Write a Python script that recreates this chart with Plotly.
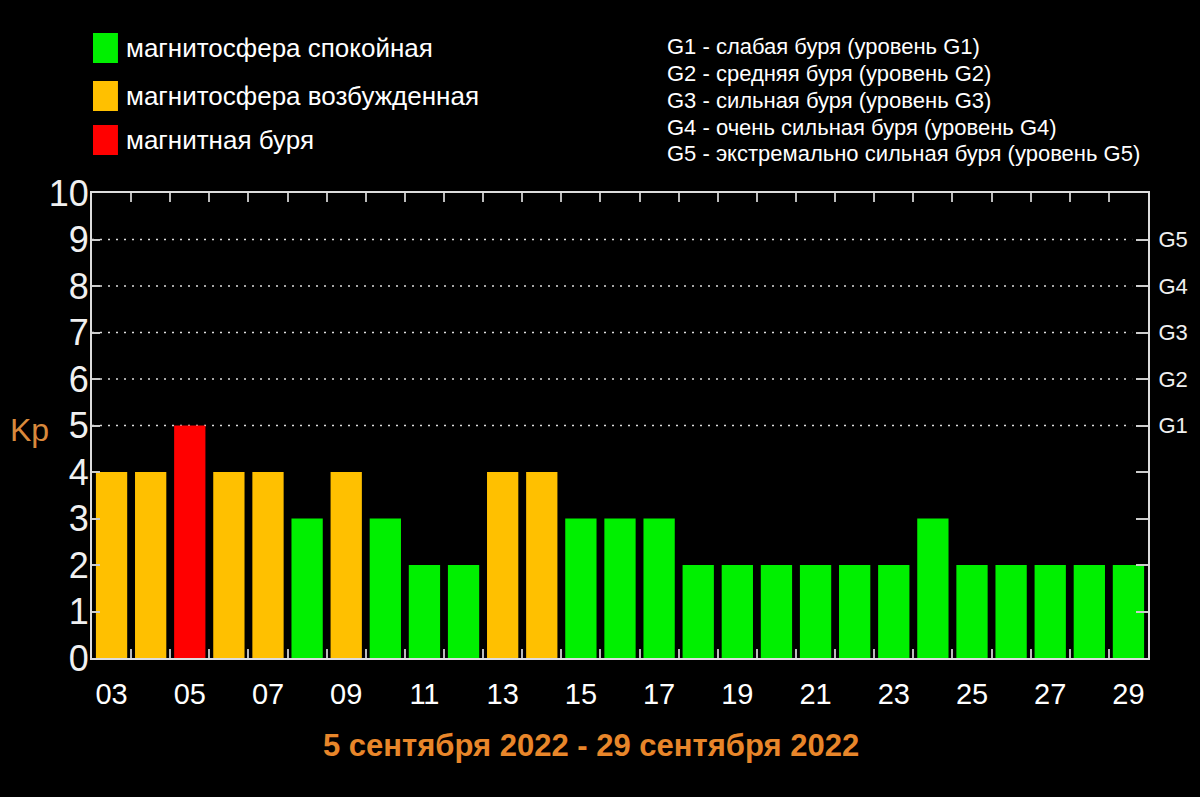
import plotly.graph_objects as go

days = ["03","04","05","06","07","08","09","10","11","12","13","14","15","16","17",
        "18","19","20","21","22","23","24","25","26","27","28","29"]
kp = [4,4,5,4,4,3,4,3,2,2,4,4,3,3,3,2,2,2,2,2,2,3,2,2,2,2,2]
label_days = ["03","05","07","09","11","13","15","17","19","21","23","25","27","29"]
g_levels = ["G1","G2","G3","G4","G5"]
g_values = [5,6,7,8,9]
legend_labels = ["магнитосфера спокойная", "магнитосфера возбужденная", "магнитная буря"]
legend_colors = ["#00F000", "#FFC000", "#FF0000"]
g_notes = ["G1 - слабая буря (уровень G1)",
           "G2 - средняя буря (уровень G2)",
           "G3 - сильная буря (уровень G3)",
           "G4 - очень сильная буря (уровень G4)",
           "G5 - экстремально сильная буря (уровень G5)"]
title_text = "5 сентября 2022 - 29 сентября 2022"

FONT = "Arial Narrow, Liberation Sans Narrow, Liberation Sans, sans-serif"

def color_for(v):
    if v >= 5:
        return legend_colors[2]
    if v >= 4:
        return legend_colors[1]
    return legend_colors[0]

idx = list(range(len(days)))
fig = go.Figure()
fig.add_trace(go.Bar(x=idx, y=kp, marker=dict(color=[color_for(v) for v in kp], line=dict(width=0)),
                     width=0.8, showlegend=False, hoverinfo="x+y"))
# invisible helper trace so the overlay axes (day labels / G levels) are drawn
fig.add_trace(go.Scatter(x=idx, y=kp, xaxis="x2", yaxis="y2", mode="markers",
                         marker=dict(opacity=0), showlegend=False, hoverinfo="skip"))

W, H = 1200, 797
L, R, T, B = 92, 50, 193, 139
fig.update_layout(
    width=W, height=H,
    paper_bgcolor="#000000", plot_bgcolor="#000000",
    margin=dict(l=L, r=R, t=T, b=B),
    showlegend=False,
    bargap=0.2,
    font=dict(family=FONT, color="#FFFFFF"),
    xaxis=dict(range=[-0.5, len(days) - 0.5], tickmode="array",
               tickvals=[i + 0.5 for i in idx[:-1]], ticktext=["" for _ in idx[:-1]],
               ticks="inside", ticklen=9, tickcolor="#BBBBBB", tickwidth=1.5,
               showline=True, linecolor="#DDDDDD", linewidth=2, mirror="ticks",
               showgrid=False, zeroline=False, fixedrange=True),
    xaxis2=dict(overlaying="x", side="bottom", range=[-0.5, len(days) - 0.5],
                tickmode="array", tickvals=[days.index(d) for d in label_days], ticktext=label_days,
                ticks="", showline=False, showgrid=False, zeroline=False,
                tickfont=dict(size=29, color="#FFFFFF", family=FONT), ticklabelstandoff=16),
    yaxis=dict(range=[0, 10], tickmode="array", tickvals=list(range(11)),
               ticktext=[str(v) for v in range(11)],
               ticks="inside", ticklen=8, tickcolor="#CCCCCC", tickwidth=1.5,
               showline=True, linecolor="#DDDDDD", linewidth=2,
               showgrid=False, zeroline=False,
               tickfont=dict(size=36, color="#F0F0F0", family=FONT), ticklabelstandoff=-6),
    yaxis2=dict(overlaying="y", side="right", range=[0, 10], tickmode="array",
                tickvals=list(range(11)),
                ticktext=[g_levels[g_values.index(v)] if v in g_values else "" for v in range(11)],
                ticks="inside", ticklen=12, tickcolor="#CCCCCC", tickwidth=1.5,
                showline=True, linecolor="#DDDDDD", linewidth=2,
                showgrid=False, zeroline=False,
                tickfont=dict(size=22, color="#F0F0F0", family=FONT), ticklabelstandoff=4),
)

# dotted storm-level grid lines
for v in g_values:
    fig.add_shape(type="line", xref="paper", yref="y", x0=0, x1=0.985, y0=v, y1=v,
                  line=dict(color="#DDDDDD", width=1.5, dash="2px,6px"), layer="below")

PW, PH = W - L - R, H - T - B
def px(x):
    return (x - L) / PW
def py(y):
    return (H - B - y) / PH

# legend block
ys = [48, 96, 140]
for lab, col, yc in zip(legend_labels, legend_colors, ys):
    fig.add_shape(type="rect", xref="paper", yref="paper",
                  x0=px(93), x1=px(118), y0=py(yc + 15), y1=py(yc - 15),
                  fillcolor=col, line=dict(width=0))
    fig.add_annotation(xref="paper", yref="paper", x=px(124), y=py(yc), text=lab,
                       showarrow=False, xanchor="left", yanchor="middle",
                       font=dict(size=26, color="#FFFFFF", family=FONT))

# G level notes
gy = [46, 73, 100, 127, 154]
for note, yc in zip(g_notes, gy):
    fig.add_annotation(xref="paper", yref="paper", x=px(666), y=py(yc), text=note,
                       showarrow=False, xanchor="left", yanchor="middle",
                       font=dict(size=22, color="#FFFFFF", family=FONT))

# Kp label
fig.add_annotation(xref="paper", yref="paper", x=px(8), y=py(430), text="Kp",
                   showarrow=False, xanchor="left", yanchor="middle",
                   font=dict(size=32, color="#D9893C", family=FONT))

# bottom title
fig.add_annotation(xref="paper", yref="paper", x=px(592), y=py(745),
                   text="<b>" + title_text + "</b>", showarrow=False,
                   xanchor="center", yanchor="middle",
                   font=dict(size=31, color="#E8862A", family=FONT))

fig.write_html("out.html", config={"displayModeBar": False},
               post_script="document.body.style.margin='0';document.body.style.overflow='hidden';")
